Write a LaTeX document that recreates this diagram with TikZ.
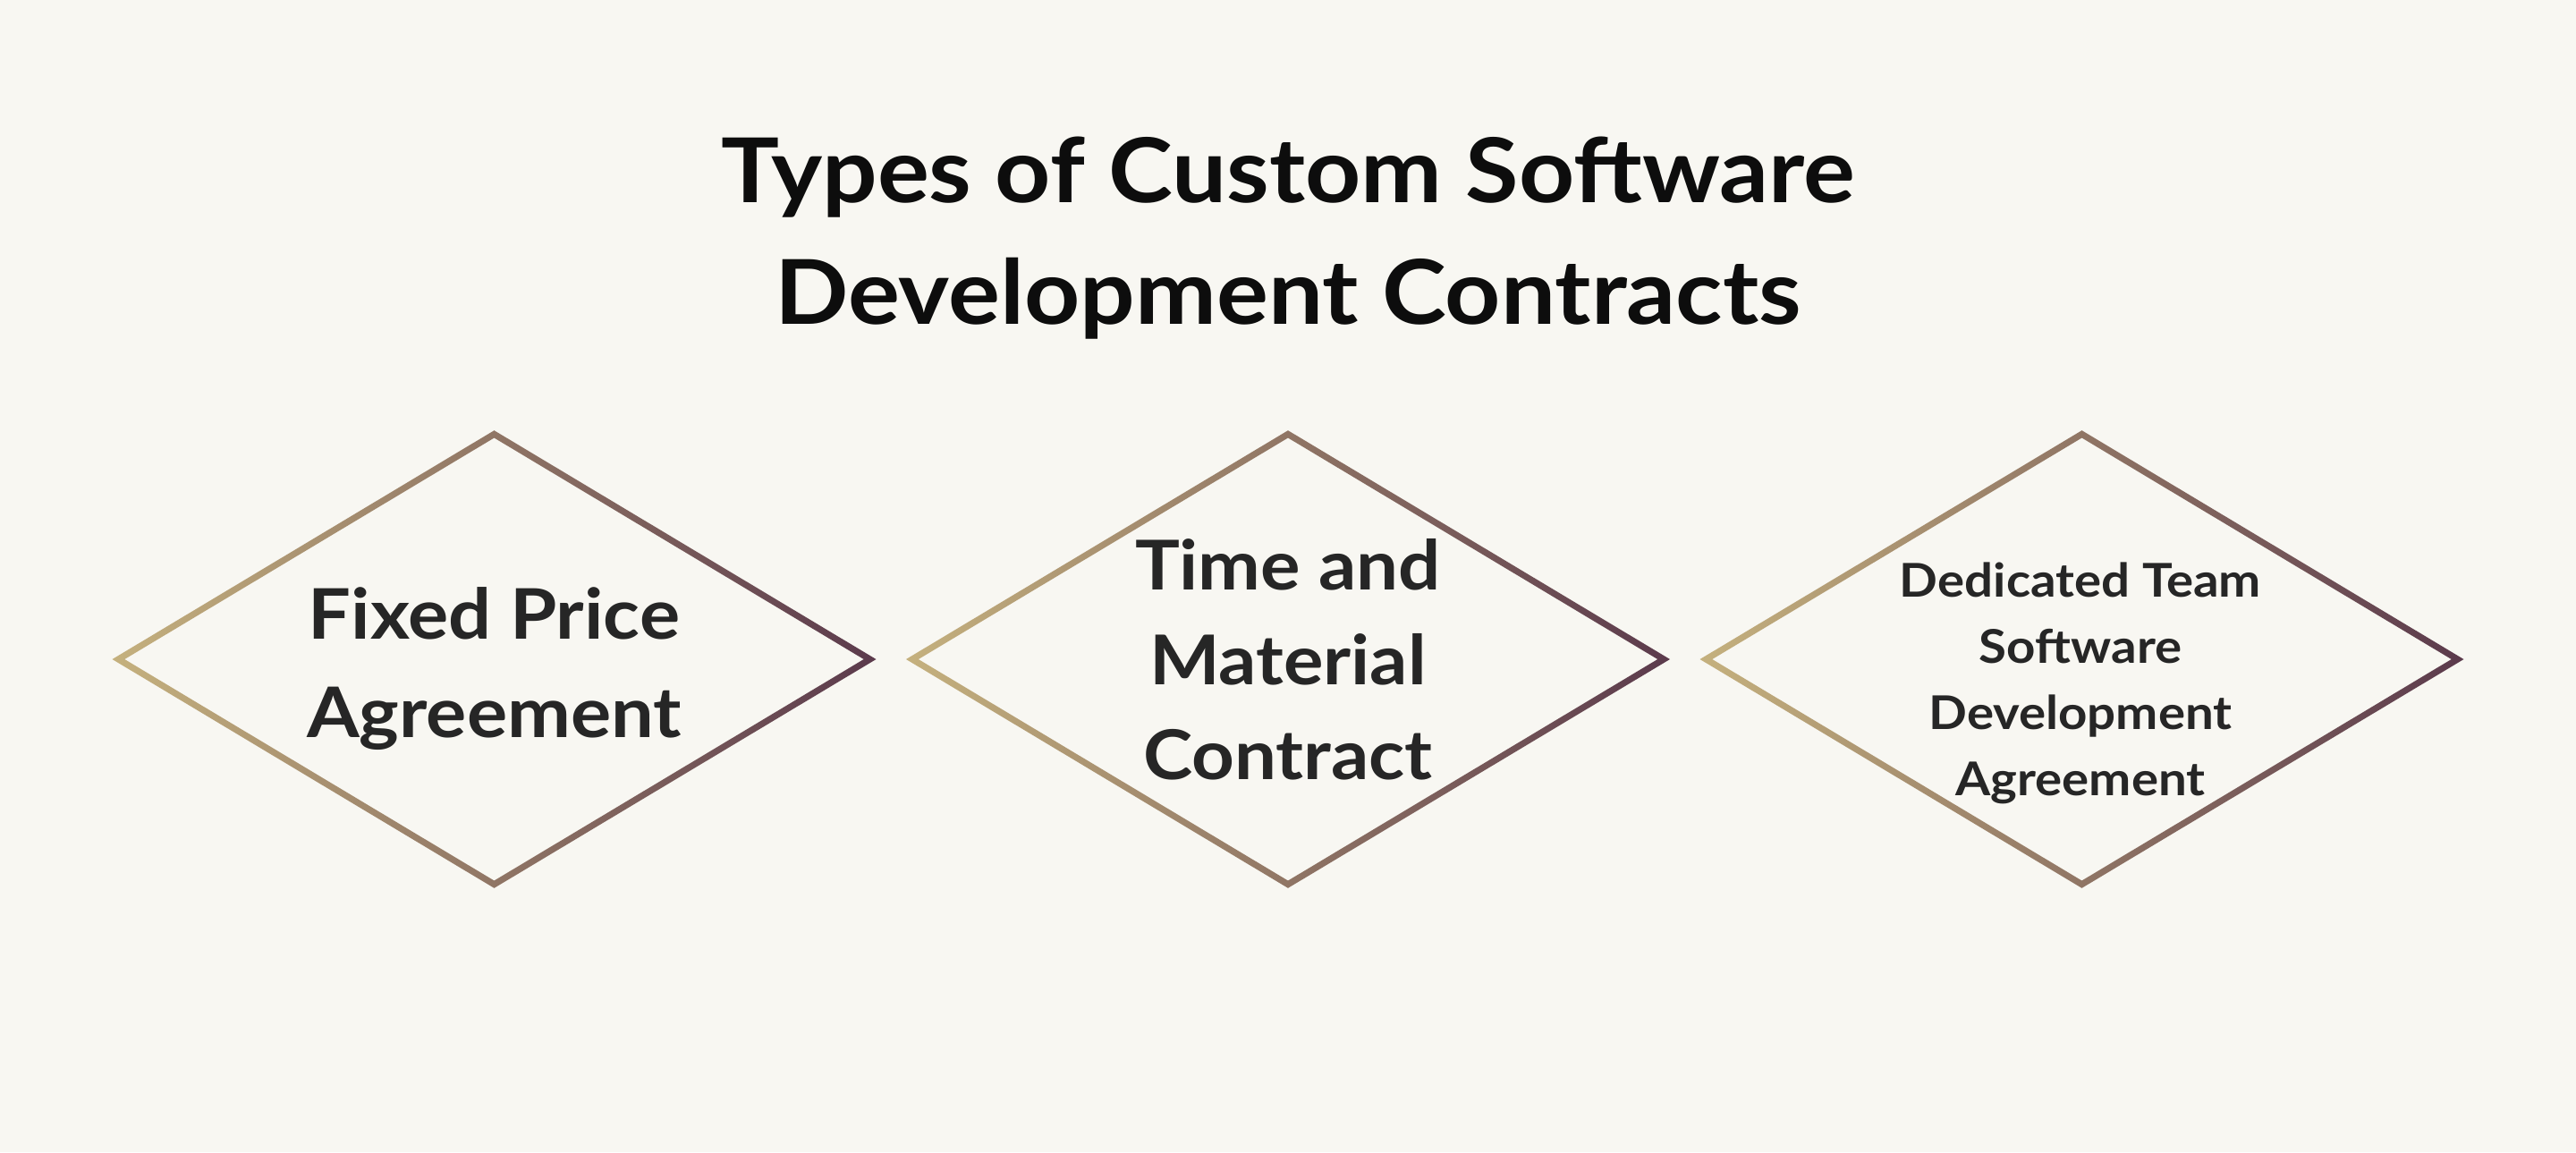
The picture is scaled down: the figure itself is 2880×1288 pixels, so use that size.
\documentclass[tikz,border=0pt]{standalone}
\usepackage{fontspec}
\setmainfont{Lato}[FakeStretch=1.085]
\definecolor{bg}{HTML}{F8F7F2}
\definecolor{tan}{HTML}{C5B17E}
\definecolor{plum}{HTML}{5B3A4C}
\definecolor{ink}{HTML}{262626}
\definecolor{titleink}{HTML}{0D0D0D}
\tikzset{
  lbl/.style={inner sep=0pt, align=center, text=ink, anchor=base},
  gstroke/.style={left color=tan, right color=plum, even odd rule},
}
\begin{document}
\begin{tikzpicture}[x=0.25pt,y=-0.25pt]
\fill[bg] (0,0) rectangle (2880,1288);
\useasboundingbox (0,0) rectangle (2880,1288);

\coordinate (c1) at (552.5,737);
\coordinate (c2) at (1440,737);
\coordinate (c3) at (2327.5,737);

\foreach \c in {c1,c2,c3}{
  \shade[gstroke]
    ([shift={(-427,0)}]\c) -- ++(427,-255.8) -- ++(427,255.8) -- ++(-427,255.8) -- cycle
    ([shift={(-413.2,0)}]\c) -- ++(413.2,-247.5) -- ++(413.2,247.5) -- ++(-413.2,247.5) -- cycle;
}

\node[lbl, text=titleink, font=\bfseries\fontsize{25}{34}\selectfont] (title) at (1440,362)
  {Types of Custom Software\\Development Contracts};

\node[lbl, font=\bfseries\fontsize{19.5}{27.5}\selectfont] (t1) at (552.5,824)
  {Fixed Price\\Agreement};
\node[lbl, font=\bfseries\fontsize{19.2}{26.4}\selectfont] (t2) at (1440,871)
  {Time and\\Material\\Contract};
\node[lbl, font=\bfseries\fontsize{13}{18.5}\selectfont] (t3) at (2326,889)
  {Dedicated Team\\Software\\Development\\Agreement};
\end{tikzpicture}
\end{document}
